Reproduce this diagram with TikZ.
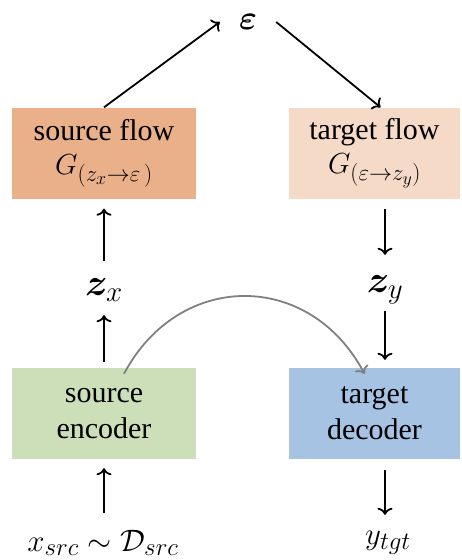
\RequirePackage{fix-cm}
\documentclass[tikz,border=0pt]{standalone}
\usepackage{amsmath}
\usepackage{bm}
\usepackage{fontspec}
\setmainfont{Liberation Serif}
\usepackage{xcolor}
\usetikzlibrary{positioning, calc, arrows.meta}

\definecolor{srcflowcol}{HTML}{E9B08A}
\definecolor{tgtflowcol}{HTML}{F5DAC8}
\definecolor{enccol}{HTML}{CCDFB9}
\definecolor{deccol}{HTML}{A7C3E4}

\DeclareMathSizes{38}{38}{29}{22}
\DeclareMathSizes{29}{29}{23}{18}
\DeclareMathSizes{31}{31}{25}{19}
\DeclareMathSizes{34}{34}{26}{20}
\newcommand{\mathsz}[1]{\fontsize{#1}{40}\selectfont}

\begin{document}
\begin{tikzpicture}[x=1pt, y=-1pt, font=\fontsize{30}{40}\selectfont,
    >={To[length=7pt, width=15pt]},
    box/.style={minimum height=91pt, align=center, inner sep=0pt},
    var/.style={font=\mathsz{38}, inner sep=0pt, minimum height=46pt},
    arr/.style={->, line width=1.8pt}]
    \useasboundingbox (0,0) rectangle (462,560);

    % Boxes
    \node[box, fill=srcflowcol, minimum width=184pt] (srcflow) at (104,153)
        {source flow\\[-6pt] {\mathsz{29}$G_{(z_x \rightarrow \varepsilon\,)}$}};
    \node[box, fill=tgtflowcol, minimum width=171pt] (tgtflow) at (374.5,153)
        {target flow\\[-6pt] {\mathsz{29}$G_{(\varepsilon \rightarrow z_y)}$}};
    \node[box, fill=enccol, minimum width=184pt] (enc) at (104,413.5)
        {source\\[-4pt] encoder};
    \node[box, fill=deccol, minimum width=171pt] (dec) at (374.5,413.5)
        {target\\[-4pt] decoder};

    % Variables
    \node[var, font=\mathsz{34}, minimum width=56pt] (eps) at (248,22) {$\bm{\varepsilon}$};
    \node[var] (zx) at (104,290) {$\bm{z}_x$};
    \node[var] (zy) at (385,290) {$\bm{z}_y$};
    \node[var, font=\mathsz{31}, minimum height=36pt] (xsrc) at (103,543) {$x_{src} \sim \mathcal{D}_{src}$};
    \node[var, font=\mathsz{31}, minimum height=36pt] (ytgt) at (388,543) {$y_{tgt}$};

    % Arrows
    \draw[arr] (srcflow.north) -- (eps.west);
    \draw[arr] (eps.east) -- ([xshift=6pt]tgtflow.north);
    \draw[arr, shorten <=6pt, shorten >=10pt] (zx.north) -- (srcflow.south -| zx);
    \draw[arr, shorten <=6pt, shorten >=2pt] (enc.north -| zx) -- (zx.south);
    \draw[arr, shorten <=10pt, shorten >=12pt] (tgtflow.south -| zy) -- (zy.north);
    \draw[arr, shorten <=-2pt, shorten >=8pt] (zy.south) -- (dec.north -| zy);
    \draw[arr, shorten <=12pt, shorten >=9pt] (xsrc.north -| zx) -- (enc.south -| zx);
    \draw[arr, shorten <=11pt, shorten >=10pt] (dec.south -| zy) -- (ytgt.north -| zy);

    % Skip
    \draw[arr, gray] ([xshift=20pt, yshift=-6pt]enc.north)
        to[out=62, in=118, looseness=1.25] ([xshift=-10pt, yshift=-6pt]dec.north);
\end{tikzpicture}
\end{document}
